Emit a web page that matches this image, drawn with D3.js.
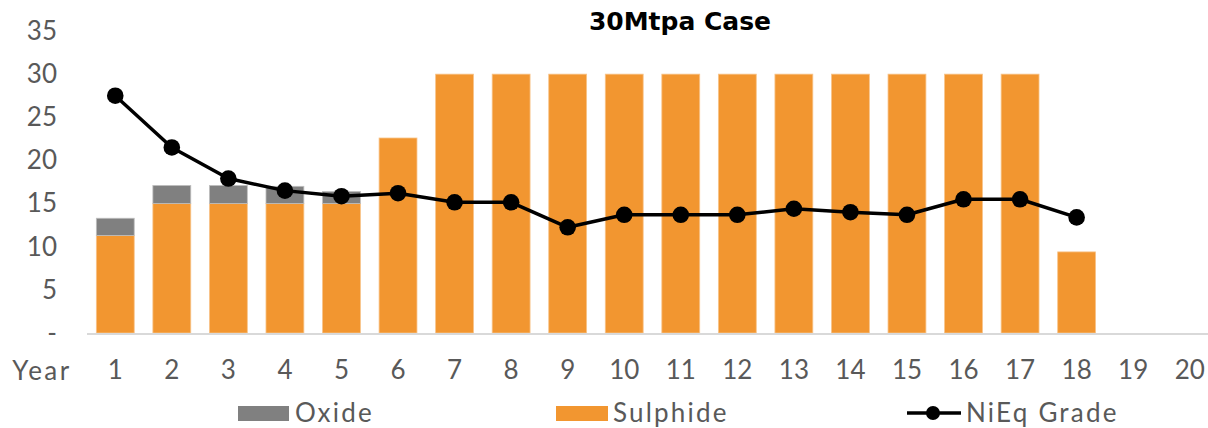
<!DOCTYPE html>
<html>
<head>
<meta charset="utf-8">
<script src="https://cdn.jsdelivr.net/npm/d3@7"></script>
<style>
  html, body { margin: 0; padding: 0; background: #fff; }
  svg { display: block; }
  text { font-family: Lato, "DejaVu Sans", sans-serif; }
</style>
</head>
<body>
<svg id="chart" width="1208" height="428"></svg>
<script>
const years = d3.range(1, 21).map(String);
const sulphide = [11.3, 15.0, 15.0, 15.0, 15.0, 22.6, 30, 30, 30, 30, 30, 30, 30, 30, 30, 30, 30, 9.4, null, null];
const oxide    = [2.0, 2.1, 2.1, 2.0, 1.4, 0, 0, 0, 0, 0, 0, 0, 0, 0, 0, 0, 0, 0, null, null];
const nieq     = [27.5, 21.5, 17.9, 16.5, 15.85, 16.2, 15.15, 15.15, 12.25, 13.7, 13.7, 13.7, 14.4, 14.0, 13.7, 15.5, 15.5, 13.4, null, null];
const yTicks   = [0, 5, 10, 15, 20, 25, 30, 35];
const title    = "30Mtpa Case";
const axisTitle = "Year";
const seriesNames = ["Oxide", "Sulphide", "NiEq Grade"];

const colors = { oxide: "#808080", sulphide: "#F29630", line: "#000000", text: "#595959", axis: "#D9D9D9" };

const svg = d3.select("#chart");
const plot = { left: 87, right: 1218, top: 31, bottom: 333 };

const x = d3.scaleBand().domain(years).range([plot.left, plot.right]).paddingInner(0.33).paddingOuter(0.165);
const y = d3.scaleLinear().domain([0, 35]).range([plot.bottom, plot.top]);

// Bars
const rows = years.map((yr, i) => ({ yr, s: sulphide[i], o: oxide[i] }));
const g = svg.append("g");
g.selectAll("rect.sul").data(rows.filter(d => d.s != null)).join("rect")
  .attr("class", "sul")
  .attr("x", d => x(d.yr)).attr("width", x.bandwidth())
  .attr("y", d => y(d.s)).attr("height", d => y(0) - y(d.s))
  .attr("fill", colors.sulphide).attr("stroke", "#F8C48A").attr("stroke-width", 0.8);
g.selectAll("rect.ox").data(rows.filter(d => d.o)).join("rect")
  .attr("class", "ox")
  .attr("x", d => x(d.yr)).attr("width", x.bandwidth())
  .attr("y", d => y(d.s + d.o)).attr("height", d => y(d.s) - y(d.s + d.o))
  .attr("fill", colors.oxide).attr("stroke", "#BFBFBF").attr("stroke-width", 0.8);

// Axis line
svg.append("line").attr("x1", plot.left).attr("x2", 1208).attr("y1", y(0) + 1).attr("y2", y(0) + 1)
  .attr("stroke", colors.axis).attr("stroke-width", 2);

// Y axis
const yAxis = d3.axisLeft(y).tickValues(yTicks).tickSize(0).tickPadding(0)
  .tickFormat(d => d === 0 ? "-" : d);
const ya = svg.append("g").attr("transform", `translate(57,0)`).call(yAxis);
ya.select(".domain").remove();
ya.selectAll("text").attr("fill", colors.text).style("font-size", "26px").style("font-family", "Lato, sans-serif");

// X axis
const xAxis = d3.axisBottom(x).tickSize(0).tickPadding(0);
const xa = svg.append("g").attr("transform", `translate(0,361)`).call(xAxis);
xa.select(".domain").remove();
xa.selectAll("text").attr("fill", colors.text).style("font-size", "26px").style("font-family", "Lato, sans-serif");

svg.append("text").attr("x", 42).attr("y", 379.5).attr("text-anchor", "middle")
  .attr("fill", colors.text).style("font-size", "26px").style("letter-spacing", "2.5px").text(axisTitle);

// Line
const pts = years.map((yr, i) => ({ yr, v: nieq[i] })).filter(d => d.v != null);
const line = d3.line().x(d => x(d.yr) + x.bandwidth() / 2).y(d => y(d.v));
svg.append("path").datum(pts).attr("d", line).attr("fill", "none")
  .attr("stroke", colors.line).attr("stroke-width", 3.5).attr("stroke-linejoin", "round");
svg.selectAll("circle.pt").data(pts).join("circle").attr("class", "pt")
  .attr("cx", d => x(d.yr) + x.bandwidth() / 2).attr("cy", d => y(d.v)).attr("r", 8.3)
  .attr("fill", colors.line);

// Title
svg.append("text").attr("x", 680).attr("y", 30).attr("text-anchor", "middle")
  .attr("fill", "#000").style("font-family", "'DejaVu Sans', sans-serif")
  .style("font-size", "25px").style("font-weight", "bold").text(title);

// Legend
const lg = svg.append("g").style("font-size", "26px").style("letter-spacing", "2.2px").attr("fill", colors.text);
lg.append("rect").attr("x", 238).attr("y", 406).attr("width", 51).attr("height", 15).attr("fill", colors.oxide);
lg.append("text").attr("x", 295).attr("y", 421.5).text(seriesNames[0]);
lg.append("rect").attr("x", 556).attr("y", 406).attr("width", 52).attr("height", 15).attr("fill", colors.sulphide);
lg.append("text").attr("x", 613).attr("y", 421.5).text(seriesNames[1]);
lg.append("line").attr("x1", 907).attr("x2", 961).attr("y1", 413).attr("y2", 413).attr("stroke", colors.line).attr("stroke-width", 3.5);
lg.append("circle").attr("cx", 933).attr("cy", 413).attr("r", 7).attr("fill", colors.line);
lg.append("text").attr("x", 966).attr("y", 421.5).text(seriesNames[2]);
</script>
</body>
</html>
